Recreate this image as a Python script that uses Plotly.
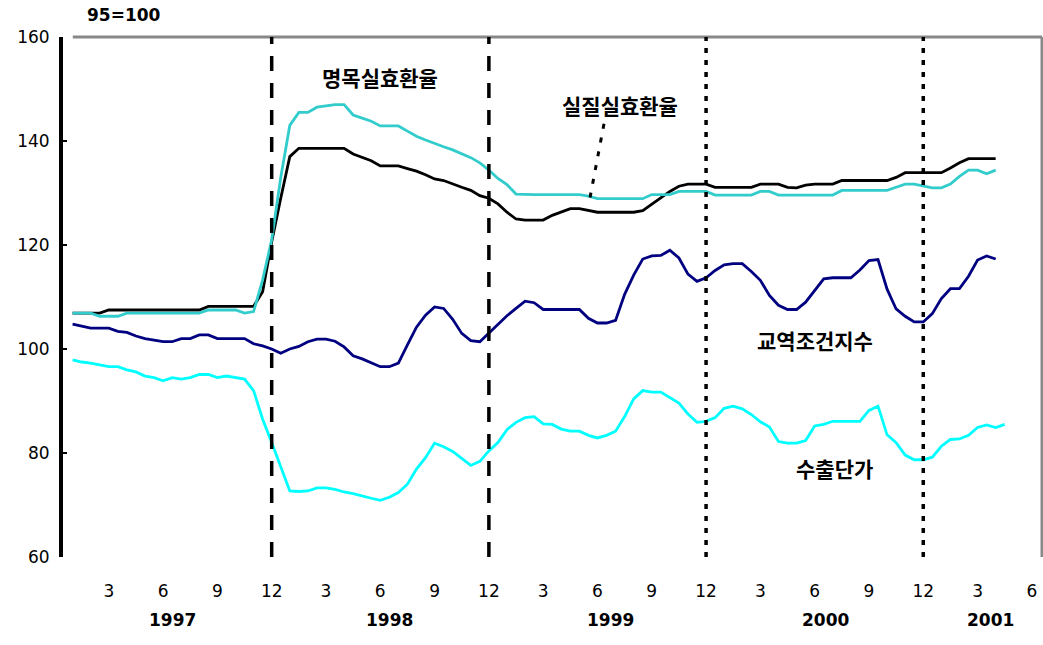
import plotly.graph_objects as go

# time index: semi-monthly steps, 1 = Jan 1997, 13 = Jan 1998, ...
t = [1 + 0.5 * i for i in range(104)]

# index values (1995 = 100), semi-monthly
black_1997 = [106.9, 106.9, 106.9, 106.9, 107.5, 107.5, 107.5, 107.5, 107.5, 107.5, 107.5, 107.5,
              107.5, 107.5, 107.5, 108.2, 108.2, 108.2, 108.2, 108.2, 108.2, 111.0, 120.6, 129.0]
black_1998 = [137.0, 138.6, 138.6, 138.6, 138.6, 138.6, 138.6, 137.5, 136.9, 136.2, 135.2, 135.2,
              135.2, 134.7, 134.2, 133.5, 132.7, 132.4, 131.7, 131.1, 130.5, 129.5, 129.0, 127.9]
black_1999 = [126.3, 125.0, 124.8, 124.8, 124.8, 125.7, 126.3, 127.0, 127.0, 126.6, 126.3, 126.3,
              126.3, 126.3, 126.3, 126.6, 127.8, 129.0, 130.3, 131.3, 131.7, 131.7, 131.7, 131.1]
black_2000 = [131.1, 131.1, 131.1, 131.1, 131.7, 131.7, 131.7, 131.1, 131.0, 131.5, 131.7, 131.7,
              131.7, 132.4, 132.4, 132.4, 132.4, 132.4, 132.4, 133.0, 133.9, 133.9, 133.9, 133.9]
black_2001 = [133.9, 134.8, 135.8, 136.6, 136.6, 136.6, 136.6]

teal_1997 = [106.9, 106.9, 106.9, 106.3, 106.3, 106.3, 106.9, 106.9, 106.9, 106.9, 106.9, 106.9,
             106.9, 106.9, 106.9, 107.5, 107.5, 107.5, 107.5, 106.9, 107.2, 113.3, 121.0, 133.0]
teal_1998 = [143.0, 145.5, 145.5, 146.5, 146.8, 147.0, 147.0, 145.0, 144.4, 143.8, 142.9, 142.9,
             142.9, 141.9, 140.9, 140.2, 139.5, 138.9, 138.3, 137.6, 136.8, 135.8, 134.4, 132.8]
teal_1999 = [131.6, 129.8, 129.7, 129.7, 129.7, 129.7, 129.7, 129.7, 129.7, 129.4, 128.9, 128.9,
             128.9, 128.9, 128.9, 128.9, 129.7, 129.7, 129.7, 130.3, 130.3, 130.3, 130.3, 129.6]
teal_2000 = [129.6, 129.6, 129.6, 129.6, 130.3, 130.3, 129.6, 129.6, 129.6, 129.6, 129.6, 129.6,
             129.6, 130.5, 130.5, 130.5, 130.5, 130.5, 130.5, 131.1, 131.7, 131.7, 131.4, 131.0]
teal_2001 = [131.0, 131.7, 133.2, 134.4, 134.4, 133.7, 134.4]

navy_1997 = [104.8, 104.4, 104.0, 104.0, 104.0, 103.4, 103.2, 102.5, 102.0, 101.7, 101.4, 101.4,
             102.0, 102.0, 102.7, 102.7, 102.0, 102.0, 102.0, 102.0, 101.0, 100.6, 100.0, 99.2]
navy_1998 = [100.0, 100.5, 101.4, 101.9, 101.9, 101.5, 100.4, 98.7, 98.1, 97.3, 96.6, 96.6,
             97.3, 100.8, 104.2, 106.5, 108.1, 107.8, 105.7, 103.0, 101.6, 101.4, 103.1, 104.7]
navy_1999 = [106.4, 107.8, 109.2, 108.9, 107.6, 107.6, 107.6, 107.6, 107.6, 105.9, 105.0, 105.0,
             105.5, 110.5, 114.2, 117.3, 117.9, 118.0, 119.0, 117.5, 114.4, 113.0, 113.7, 115.1]
navy_2000 = [116.2, 116.4, 116.4, 114.9, 113.2, 110.3, 108.4, 107.6, 107.6, 109.0, 111.3, 113.5,
             113.7, 113.7, 113.7, 115.2, 117.0, 117.2, 111.5, 107.7, 106.3, 105.2, 105.2, 106.8]
navy_2001 = [109.7, 111.6, 111.6, 114.0, 117.1, 117.9, 117.3]

cyan_1997 = [97.9, 97.5, 97.3, 97.0, 96.6, 96.6, 96.0, 95.6, 94.8, 94.5, 93.9, 94.5,
             94.2, 94.5, 95.1, 95.1, 94.5, 94.8, 94.5, 94.2, 92.0, 86.5, 82.0, 77.5]
cyan_1998 = [72.7, 72.6, 72.7, 73.3, 73.3, 73.0, 72.5, 72.2, 71.7, 71.3, 70.9, 71.5,
             72.4, 74.0, 76.9, 79.1, 81.9, 81.2, 80.3, 78.9, 77.6, 78.4, 80.4, 82.0]
cyan_1999 = [84.5, 85.9, 86.8, 87.0, 85.6, 85.5, 84.6, 84.2, 84.2, 83.4, 82.9, 83.4,
             84.2, 87.0, 90.4, 92.0, 91.7, 91.7, 90.7, 89.6, 87.5, 85.9, 86.1, 86.8]
cyan_2000 = [88.6, 89.0, 88.5, 87.4, 86.0, 85.0, 82.2, 81.9, 81.9, 82.4, 85.2, 85.5,
             86.1, 86.1, 86.1, 86.1, 88.2, 89.0, 83.5, 82.0, 79.6, 78.7, 78.7, 79.2]
cyan_2001 = [81.3, 82.6, 82.7, 83.4, 84.9, 85.4, 84.9, 85.5]

black = black_1997 + black_1998 + black_1999 + black_2000 + black_2001
teal = teal_1997 + teal_1998 + teal_1999 + teal_2000 + teal_2001
navy = navy_1997 + navy_1998 + navy_1999 + navy_2000 + navy_2001
cyan = cyan_1997 + cyan_1998 + cyan_1999 + cyan_2000 + cyan_2001

month_ticks = [3, 6, 9, 12, 15, 18, 21, 24, 27, 30, 33, 36, 39, 42, 45, 48, 51, 54]
month_labels = ["3", "6", "9", "12"] * 4 + ["3", "6"]
years = ["1997", "1998", "1999", "2000", "2001"]
year_pos = [6.5, 18.5, 30.7, 42.6, 51.7]
y_ticks = [60, 80, 100, 120, 140, 160]
breaks_dash = [12, 24]
breaks_dot = [36, 48]

labels = ["명목실효환율", "실질실효환율", "교역조건지수", "수출단가"]
label_x = [17.98, 31.24, 42.02, 43.12]
label_y = [152.3, 146.9, 101.7, 77.1]

num_font = dict(family="DejaVu Sans", size=17, color="black")
kr_font = dict(family="Noto Sans CJK KR", size=21, color="black")

fig = go.Figure()
fig.add_trace(go.Scatter(x=t[:len(black)], y=black, mode="lines",
                         line=dict(color="#000000", width=2.8)))
fig.add_trace(go.Scatter(x=t[:len(teal)], y=teal, mode="lines",
                         line=dict(color="#33CCCC", width=2.8)))
fig.add_trace(go.Scatter(x=t[:len(navy)], y=navy, mode="lines",
                         line=dict(color="#000080", width=2.8)))
fig.add_trace(go.Scatter(x=t[:len(cyan)], y=cyan, mode="lines",
                         line=dict(color="#00FFFF", width=2.8)))

shapes = []
# frame (top/right grey)
shapes.append(dict(type="line", xref="paper", yref="paper", x0=0.01, x1=1, y0=1, y1=1,
                   line=dict(color="#888888", width=3)))
shapes.append(dict(type="line", xref="paper", yref="paper", x0=1, x1=1, y0=0, y1=1,
                   line=dict(color="#888888", width=3)))
for b in breaks_dash:
    shapes.append(dict(type="line", xref="x", yref="paper", x0=b, x1=b, y0=0, y1=1,
                       line=dict(color="black", width=3.5, dash="15px,12px")))
for b in breaks_dot:
    shapes.append(dict(type="line", xref="x", yref="paper", x0=b, x1=b, y0=0, y1=1,
                       line=dict(color="black", width=3.5, dash="5px,7px")))
# small dotted pointer under the second label
shapes.append(dict(type="line", xref="x", yref="y", x0=30.36, y0=143.3, x1=29.5, y1=127.5,
                   line=dict(color="black", width=3, dash="5px,9px")))

annotations = []
for txt, xx, yy in zip(labels, label_x, label_y):
    annotations.append(dict(x=xx, y=yy, xref="x", yref="y", text="<b>" + txt + "</b>",
                            showarrow=False, font=kr_font))
for yr, xp in zip(years, year_pos):
    annotations.append(dict(x=xp, y=-0.145, xref="x", yref="paper", text="<b>" + yr + "</b>",
                            showarrow=False, font=num_font))
annotations.append(dict(x=0.062, y=1.042, xref="paper", yref="paper", text="<b>95=100</b>",
                        xanchor="center", yanchor="middle", showarrow=False, font=num_font))

fig.update_layout(
    width=1043, height=645, autosize=False,
    margin=dict(l=63, r=1, t=37, b=88),
    plot_bgcolor="white", paper_bgcolor="white",
    showlegend=False,
    shapes=shapes, annotations=annotations,
    xaxis=dict(range=[0.47, 54.56], tickmode="array", tickvals=month_ticks, ticktext=month_labels,
               showgrid=False, zeroline=False, showline=False, ticks="",
               tickfont=dict(family="DejaVu Sans", size=17, color="black"),
               ticklabelstandoff=22, tickprefix="<b>", ticksuffix="</b>"),
    yaxis=dict(range=[60, 160], tickmode="array", tickvals=y_ticks,
               showgrid=False, zeroline=False, showline=True, linecolor="black", linewidth=4,
               ticks="inside", ticklen=4, tickwidth=2, tickcolor="black",
               tickfont=dict(family="DejaVu Sans", size=17, color="black"),
               ticklabelstandoff=6, tickprefix="<b>", ticksuffix="</b>"),
)

post = ("document.body.style.margin='0';document.body.style.padding='0';"
        "document.body.style.overflow='hidden';"
        "var gd=document.getElementById('{plot_id}');"
        "Plotly.relayout(gd,{width:1043,height:645});")

fig.write_html("out.html", config={"responsive": False, "displayModeBar": False},
               post_script=post)
